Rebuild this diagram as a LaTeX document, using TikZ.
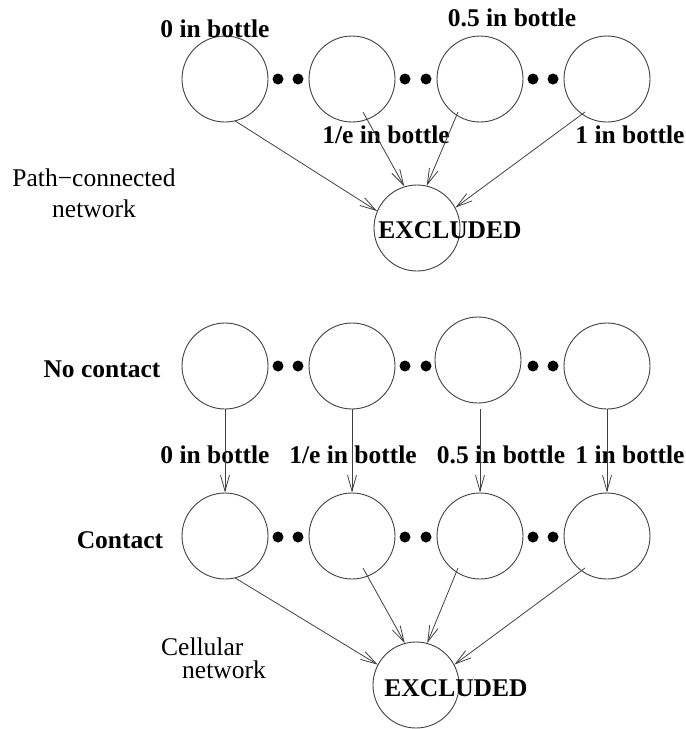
\documentclass[tikz,border=0pt]{standalone}
\usepackage{fontspec}
\setmainfont{Liberation Serif}
\usetikzlibrary{arrows.meta,calc}
\begin{document}
\begin{tikzpicture}[x=1pt,y=-1pt,
  st/.style={circle,draw=black!75,line width=0.9pt,minimum size=86pt,inner sep=0pt},
  dotn/.style={circle,fill=black,minimum size=11pt,inner sep=0pt},
  lbl/.style={font=\fontsize{25.5}{30}\selectfont\bfseries,inner sep=0pt},
  nlbl/.style={font=\fontsize{25.5}{31}\selectfont,inner sep=0pt},
  arr/.style={draw=black!75,line width=0.8pt,-{Straight Barb[length=16pt,width=9pt]}}]
\useasboundingbox (0,0) rectangle (686,729);
% ---- top section ----
\node[st] (t1) at (225,79) {};
\node[st] (t2) at (352,79) {};
\node[st] (t3) at (480,79) {};
\node[st] (t4) at (607,79) {};
\node[st] (ex1) at (417,228) {};
\foreach \x [count=\i] in {278,298,405,426,533,553} \node[dotn] (td\i) at (\x,79) {};
\node[lbl] (tl1) at (215,29) {0 in bottle};
\node[lbl] (tl3) at (512,18) {0.5 in bottle};
\node[lbl] (tl2) at (386,135) {1/e in bottle};
\node[lbl] (tl4) at (630,135) {1 in bottle};
\node[lbl] (ext1) at (450,230) {EXCLUDED};
\node[nlbl,align=center] (pc) at (94,193) {Path−connected\\network};
\coordinate (s2) at ($(t2)+(11,33)$);
\coordinate (s3) at ($(t3)+(-22,33)$);
\coordinate (s4) at ($(t4)+(-22,33)$);
\draw[arr] (t1.-76) -- (ex1.157);
\draw[arr] (s2) -- (ex1.107);
\draw[arr] (s3) -- (ex1.77);
\draw[arr] (s4) -- (ex1.28);
% ---- bottom section ----
\node[st] (n1) at (225,366) {};
\node[st] (n2) at (352,366) {};
\node[st] (n3) at (478,360) {};
\node[st] (n4) at (607,366) {};
\node[st] (c1) at (225,536) {};
\node[st] (c2) at (352,536) {};
\node[st] (c3) at (480,536) {};
\node[st] (c4) at (607,536) {};
\node[st] (ex2) at (416,685) {};
\foreach \x [count=\i] in {278,298,405,426,533,553} {
  \node[dotn] (nd\i) at (\x,366) {};
  \node[dotn] (cd\i) at (\x,537) {};
}
\node[lbl] (nc) at (102,369) {No contact};
\node[lbl] (co) at (120,540) {Contact};
\node[lbl] (ml1) at (215,455) {0 in bottle};
\node[lbl] (ml2) at (353,455) {1/e in bottle};
\node[lbl] (ml3) at (501,455) {0.5 in bottle};
\node[lbl] (ml4) at (630,455) {1 in bottle};
\node[lbl] (ext2) at (456,688) {EXCLUDED};
\node[font=\fontsize{25.5}{23}\selectfont,inner sep=0pt,align=left,anchor=west] (cel) at (161,658) {Cellular\\\hspace*{21pt}network};
\coordinate (n3s) at ($(n3.south)+(2,6)$);
\draw[arr] (n1.south) -- (c1.north);
\draw[arr] (n2.south) -- (c2.north);
\draw[arr] (n3s) -- (c3.north);
\draw[arr] (n4.south) -- (c4.north);
\coordinate (b2) at ($(c2)+(11,32)$);
\coordinate (b3) at ($(c3)+(-22,32)$);
\coordinate (b4) at ($(c4)+(-22,32)$);
\draw[arr] (c1.-76) -- (ex2.152);
\draw[arr] (b2) -- (ex2.105);
\draw[arr] (b3) -- (ex2.75);
\draw[arr] (b4) -- (ex2.28);
\end{tikzpicture}
\end{document}
